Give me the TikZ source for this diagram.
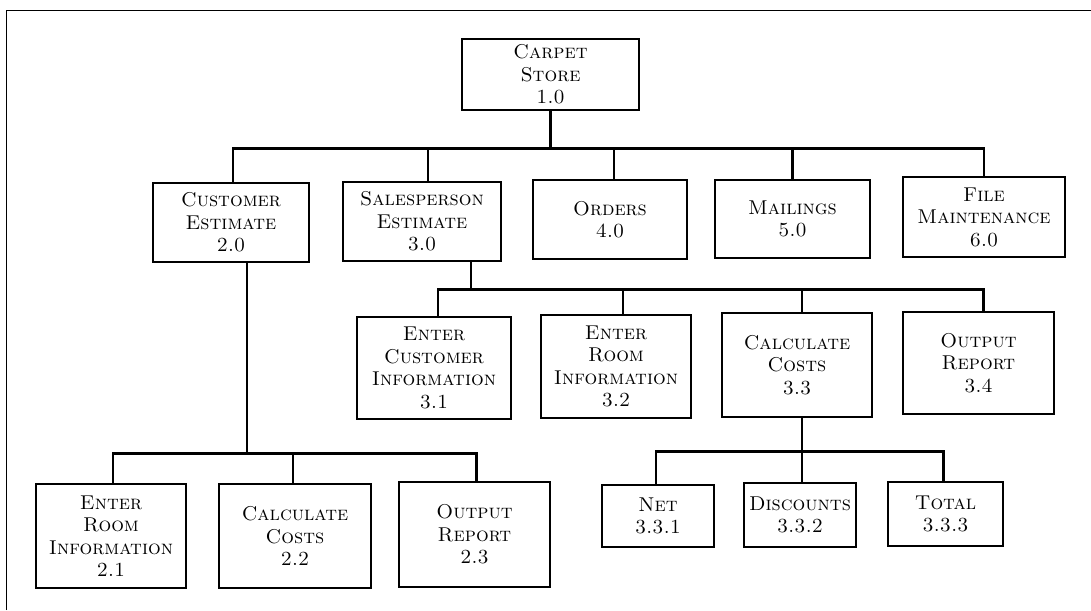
\documentclass[tikz,border=0pt]{standalone}
\usepackage{amsmath}
\usepackage{tikz}

\begin{document}
\begin{tikzpicture}[x=0.5pt, y=-0.5pt]
		\tikzstyle{box} = [draw, rectangle, line width=0.7pt, align=center, inner sep=0pt, font=\fontsize{10}{11.25}\selectfont\scshape]
		\tikzstyle{link} = [line width=1.4pt]
		\useasboundingbox (0,0) rectangle (1091,610);
		\draw[line width=0.5pt] (6,610) -- (6,11) -- (1091,11);

		\node [box, minimum width=88.5pt, minimum height=35.5pt] (root) at (550.5,74.5) {Carpet\\Store\\1.0};

		\node [box, minimum width=78pt, minimum height=39.5pt] (cust) at (231,222.5) {Customer\\Estimate\\2.0};
		\node [box, minimum width=79pt, minimum height=39.5pt] (sales) at (422,221.5) {Salesperson\\Estimate\\3.0};
		\node [box, minimum width=77pt, minimum height=39.5pt] (orders) at (610,219.5) {Orders\\4.0};
		\node [box, minimum width=77.5pt, minimum height=39pt] (mail) at (792.5,219) {Mailings\\5.0};
		\node [box, minimum width=81pt, minimum height=40pt] (file) at (984,217) {File\\Maintenance\\6.0};

		\node [box, minimum width=77pt, minimum height=51pt] (enterCust) at (434,368) {Enter\\Customer\\Information\\3.1};
		\node [box, minimum width=75pt, minimum height=51.5pt] (enterRoomS) at (616,366.5) {Enter\\Room\\Information\\3.2};
		\node [box, minimum width=75pt, minimum height=52pt] (calcS) at (797,365) {Calculate\\Costs\\3.3};
		\node [box, minimum width=75.5pt, minimum height=51pt] (reportS) at (978.5,363) {Output\\Report\\3.4};

		\node [box, minimum width=75pt, minimum height=52pt] (enterRoomC) at (111,536) {Enter\\Room\\Information\\2.1};
		\node [box, minimum width=76pt, minimum height=52pt] (calcC) at (295,536) {Calculate\\Costs\\2.2};
		\node [box, minimum width=75.5pt, minimum height=52.5pt] (reportC) at (474.5,534.5) {Output\\Report\\2.3};

		\node [box, minimum width=56pt, minimum height=31pt] (net) at (658,516) {Net\\3.3.1};
		\node [box, minimum width=56pt, minimum height=32pt] (disc) at (800,515) {Discounts\\3.3.2};
		\node [box, minimum width=57.5pt, minimum height=32pt] (total) at (945.5,514) {Total\\3.3.3};

		\draw[link] (root.south) -- ++(0,38) -| ([xshift=1pt]cust.north);
		\draw[link] (root.south) -- ++(0,38) -| ([xshift=3pt]sales.north);
		\draw[link] (root.south) -- ++(0,38) -| ([xshift=2pt]orders.north);
		\draw[link] (root.south) -- ++(0,38) -| (mail.north);
		\draw[link] (root.south) -- ++(0,38) -| (file.north);

		\draw[link] ([xshift=24.5pt]sales.south) -- ++(0,28) -| ([xshift=2pt]enterCust.north);
		\draw[link] ([xshift=24.5pt]sales.south) -- ++(0,28) -| ([xshift=3.5pt]enterRoomS.north);
		\draw[link] ([xshift=24.5pt]sales.south) -- ++(0,28) -| ([xshift=2.5pt]calcS.north);
		\draw[link] ([xshift=24.5pt]sales.south) -- ++(0,28) -| ([xshift=2.5pt]reportS.north);

		\draw[link] ([xshift=8pt]cust.south) -- ++(0,191) -| ([xshift=1pt]enterRoomC.north);
		\draw[link] ([xshift=8pt]cust.south) -- ++(0,191) -| ([xshift=-1pt]calcC.north);
		\draw[link] ([xshift=8pt]cust.south) -- ++(0,191) -| ([xshift=1pt]reportC.north);

		\draw[link] ([xshift=2.5pt]calcS.south) -- ++(0,34) -| ([xshift=-1pt]net.north);
		\draw[link] ([xshift=2.5pt]calcS.south) -- ++(0,34) -| ([xshift=1pt]disc.north);
		\draw[link] ([xshift=2.5pt]calcS.south) -- ++(0,34) -| ([xshift=-1pt]total.north);
	\end{tikzpicture}
\end{document}
